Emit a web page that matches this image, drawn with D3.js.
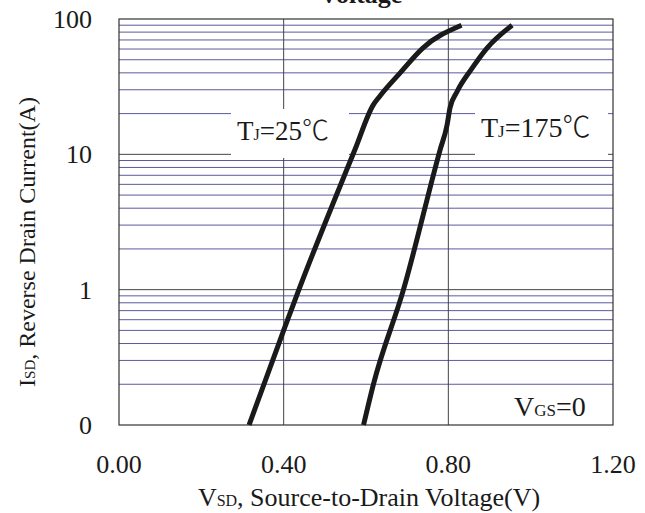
<!DOCTYPE html>
<html>
<head>
<meta charset="utf-8">
<title>Reverse Drain Current vs Source-to-Drain Voltage</title>
<style>
  body { margin: 0; background: #fff; }
  svg text { font-family: "Liberation Serif", "Times New Roman", serif; fill: #1a1a1a; }
</style>
</head>
<body>
<script src="https://cdn.jsdelivr.net/npm/d3@7"></script>
<script>
// curve data (V, A)
var vsd25  = [0.316, 0.400, 0.437, 0.573, 0.617, 0.634, 0.683, 0.738, 0.832];
var isd25  = [0.1,   0.5,   1,     10.8,  23,    27,    40,    61,    90];
var vsd175 = [0.594, 0.618, 0.691, 0.780, 0.797, 0.804, 0.821, 0.857, 0.894, 0.955];
var isd175 = [0.1,   0.2,   1,     10.8,  16.5,  22,    29,    43,    61,    90];

var xTicks = [0, 0.4, 0.8, 1.2];
var xTickLabels = ["0.00", "0.40", "0.80", "1.20"];
var yTicks = [0.1, 1, 10, 100];
var yTickLabels = ["0", "1", "10", "100"];

var W = 645, H = 513;
var margin = {top: 19, right: 32, bottom: 88, left: 119};
var width = W - margin.left - margin.right,
    height = H - margin.top - margin.bottom;

var svg = d3.select("body").append("svg")
  .attr("width", W).attr("height", H);

var x = d3.scaleLinear().domain([0, 1.2]).range([margin.left, margin.left + width]);
var y = d3.scaleLog().domain([0.1, 100]).range([margin.top + height, margin.top]);

// minor grid lines 2..9 in each decade
var minor = [];
[0.1, 1, 10].forEach(function(d){
  for (var k = 2; k <= 9; k++) minor.push(d * k);
});

var grid = svg.append("g");
grid.selectAll("line.minor").data(minor).enter().append("line")
  .attr("class", "minor")
  .attr("x1", x(0)).attr("x2", x(1.2))
  .attr("y1", function(d){ return y(d); }).attr("y2", function(d){ return y(d); })
  .attr("stroke", "#5a5a9e").attr("stroke-width", 1);

grid.selectAll("line.hmajor").data([1, 10]).enter().append("line")
  .attr("class", "hmajor")
  .attr("x1", x(0)).attr("x2", x(1.2))
  .attr("y1", function(d){ return y(d); }).attr("y2", function(d){ return y(d); })
  .attr("stroke", "#444").attr("stroke-width", 1);

grid.selectAll("line.vmajor").data([0.4, 0.8]).enter().append("line")
  .attr("class", "vmajor")
  .attr("x1", function(d){ return x(d); }).attr("x2", function(d){ return x(d); })
  .attr("y1", y(0.1)).attr("y2", y(100))
  .attr("stroke", "#444").attr("stroke-width", 1);

// frame
svg.append("rect")
  .attr("x", x(0)).attr("y", y(100))
  .attr("width", x(1.2) - x(0)).attr("height", y(0.1) - y(100))
  .attr("fill", "none").attr("stroke", "#333").attr("stroke-width", 1.2);

// white boxes behind the temperature labels
function whiteBox(xp, yp, bw, bh) {
  svg.append("rect")
    .attr("x", xp).attr("y", yp).attr("width", bw).attr("height", bh)
    .attr("fill", "#fff");
}
whiteBox(231, 109, 118, 49);
whiteBox(475, 109, 133, 49);

// curves
var line = d3.line()
  .x(function(d){ return x(d[0]); })
  .y(function(d){ return y(d[1]); })
  .curve(d3.curveMonotoneX);

var curves = [d3.zip(vsd25, isd25), d3.zip(vsd175, isd175)];
svg.selectAll("path.curve").data(curves).enter().append("path")
  .attr("class", "curve")
  .attr("d", line)
  .attr("fill", "none")
  .attr("stroke", "#1a1a1a")
  .attr("stroke-width", 5)
  .attr("stroke-linecap", "butt")
  .attr("stroke-linejoin", "round");

// annotation texts
function subText(xp, yp, big, small, rest, size, unit) {
  var t = svg.append("text").attr("x", xp).attr("y", yp).style("font-size", size + "px");
  t.append("tspan").text(big);
  t.append("tspan").style("font-size", Math.round(size * 0.6) + "px").text(small);
  t.append("tspan").text(rest);
  if (unit) {
    t.append("tspan")
      .style("font-family", "'Noto Sans CJK SC', sans-serif")
      .style("font-weight", "300")
      .text(unit);
  }
  return t;
}
subText(237, 140, "T", "J", "=25", 27, "\u2103");
subText(481, 137, "T", "J", "=175", 28, "\u2103");
subText(514, 416, "V", "GS", "=0", 28);

// tick labels
svg.selectAll("text.xt").data(xTicks).enter().append("text")
  .attr("class", "xt")
  .attr("x", function(d){ return x(d); })
  .attr("y", 473)
  .attr("text-anchor", "middle")
  .style("font-size", "26px")
  .text(function(d, i){ return xTickLabels[i]; });

svg.selectAll("text.yt").data(yTicks).enter().append("text")
  .attr("class", "yt")
  .attr("x", 92)
  .attr("y", function(d){ return y(d) + 9; })
  .attr("text-anchor", "end")
  .style("font-size", "26px")
  .text(function(d, i){ return yTickLabels[i]; });

// axis titles
var xt = svg.append("text")
  .attr("x", 369).attr("y", 506)
  .attr("text-anchor", "middle")
  .style("font-size", "26px");
xt.append("tspan").text("V");
xt.append("tspan").style("font-size", "16px").text("SD");
xt.append("tspan").text(", Source-to-Drain Voltage(V)");

var yt = svg.append("text")
  .attr("transform", "translate(35,242) rotate(-90)")
  .attr("text-anchor", "middle")
  .style("font-size", "24px");
yt.append("tspan").text("I");
yt.append("tspan").style("font-size", "15px").text("SD");
yt.append("tspan").text(", Reverse Drain Current(A)");

// title, mostly cut off at the top
svg.append("text")
  .attr("x", 361).attr("y", 3)
  .attr("text-anchor", "middle")
  .style("font-size", "26px")
  .style("font-weight", "bold")
  .text("Voltage");
</script>
</body>
</html>
